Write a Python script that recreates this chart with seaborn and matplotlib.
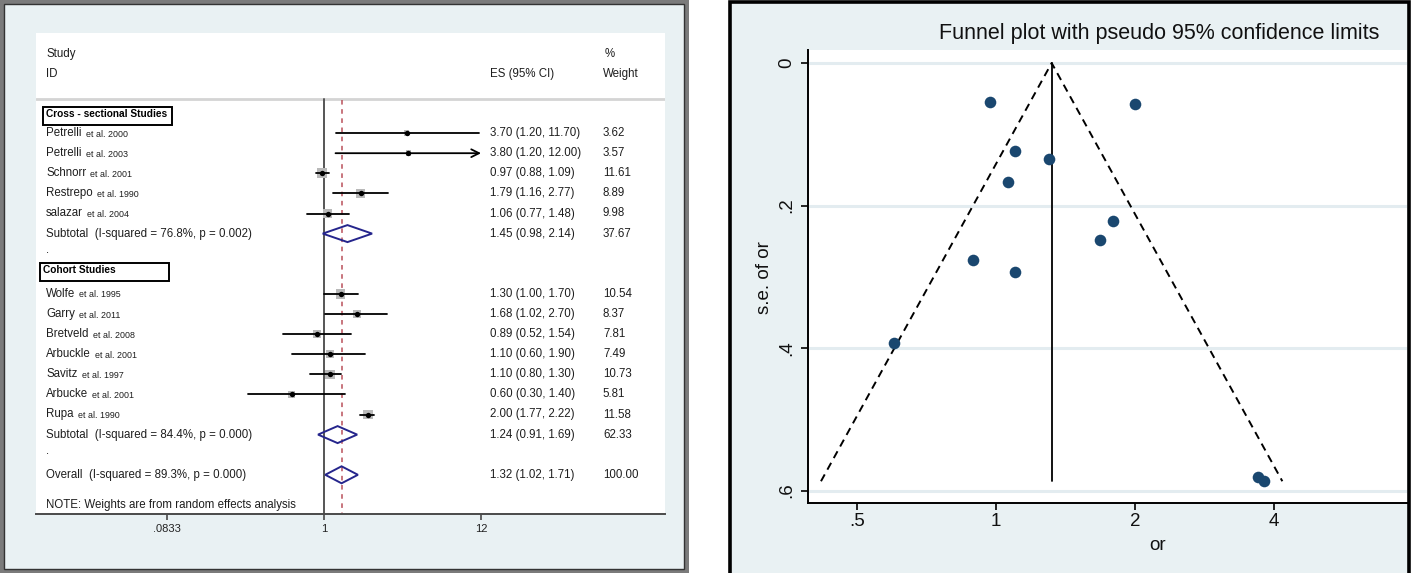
import numpy as np
import pandas as pd
import matplotlib
matplotlib.use("Agg")
import matplotlib.pyplot as plt
import matplotlib.transforms as mtransforms
from matplotlib.patches import Rectangle, Polygon
from matplotlib.ticker import NullLocator, FixedLocator, FixedFormatter
import seaborn as sns

sns.set_theme(style="white")
plt.rcParams["font.family"] = ["Liberation Sans", "DejaVu Sans"]

# ---------------------------------------------------------------- data
authors = ["Petrelli", "Petrelli", "Schnorr", "Restrepo", "salazar",
           "Wolfe", "Garry", "Bretveld", "Arbuckle", "Savitz", "Arbucke", "Rupa"]
cites = ["et al. 2000", "et al. 2003", "et al. 2001", "et al. 1990", "et al. 2004",
         "et al. 1995", "et al. 2011", "et al. 2008", "et al. 2001", "et al. 1997",
         "et al. 2001", "et al. 1990"]
groups = ["Cross - sectional Studies", "Cohort Studies"]
group_sizes = [5, 7]
es = [3.70, 3.80, 0.97, 1.79, 1.06, 1.30, 1.68, 0.89, 1.10, 1.10, 0.60, 2.00]
ci_lo = [1.20, 1.20, 0.88, 1.16, 0.77, 1.00, 1.02, 0.52, 0.60, 0.80, 0.30, 1.77]
ci_hi = [11.70, 12.00, 1.09, 2.77, 1.48, 1.70, 2.70, 1.54, 1.90, 1.30, 1.40, 2.22]
weight = [3.62, 3.57, 11.61, 8.89, 9.98, 10.54, 8.37, 7.81, 7.49, 10.73, 5.81, 11.58]

sub_labels = ["Subtotal  (I-squared = 76.8%, p = 0.002)",
              "Subtotal  (I-squared = 84.4%, p = 0.000)"]
sub_es = [1.45, 1.24]
sub_lo = [0.98, 0.91]
sub_hi = [2.14, 1.69]
sub_weight = [37.67, 62.33]

overall_label = "Overall  (I-squared = 89.3%, p = 0.000)"
overall_es, overall_lo, overall_hi, overall_weight = 1.32, 1.02, 1.71, 100.00
note_text = "NOTE: Weights are from random effects analysis"

forest_ticks = [0.0833, 1, 12]
forest_ticklabels = [".0833", "1", "12"]

# funnel plot: standard error of each study's odds ratio
se_or = [0.581, 0.587, 0.055, 0.222, 0.167, 0.135, 0.248, 0.277, 0.294, 0.124, 0.393, 0.058]
funnel_ticks = [0.5, 1, 2, 4]
funnel_ticklabels = [".5", "1", "2", "4"]
se_ticks = [0, 0.2, 0.4, 0.6]
se_ticklabels = ["0", ".2", ".4", ".6"]

# ---------------------------------------------------------------- figure
W, H = 1415, 573
fig = plt.figure(figsize=(W / 100, H / 100), dpi=100)
fig.patch.set_facecolor("white")

BG = "#e9f1f3"


def fig_rect(x0, y0, x1, y1, **kw):
    """Rectangle given in pixel coordinates measured from the top-left."""
    r = Rectangle((x0 / W, 1 - y1 / H), (x1 - x0) / W, (y1 - y0) / H,
                  transform=fig.transFigure, **kw)
    fig.patches.append(r)
    return r


def axes_px(x0, y0, x1, y1):
    return fig.add_axes([x0 / W, 1 - y1 / H, (x1 - x0) / W, (y1 - y0) / H])


# panel backgrounds (drawn beneath the axes)
fig_rect(0, 0, 689, 573, facecolor="#7b7b7b", edgecolor="none", zorder=-10)
fig_rect(4, 4, 684, 569, facecolor=BG, edgecolor="#333333", linewidth=1.0, zorder=-9)
fig_rect(730, 2, 1409, 580, facecolor=BG, edgecolor="black", linewidth=2.6, zorder=-10)

# ---------------------------------------------------------------- forest plot
axL = axes_px(36, 33, 665, 514)
axL.set_facecolor("white")
axL.set_xscale("log")
axL.set_xlim(np.exp((36 - 324) / 63.2), np.exp((665 - 324) / 63.2))
axL.set_ylim(514, 33)
for s in ["top", "left", "right"]:
    axL.spines[s].set_visible(False)
axL.spines["bottom"].set_color("#4a4a4a")
axL.spines["bottom"].set_linewidth(1.4)
axL.xaxis.set_major_locator(FixedLocator(forest_ticks))
axL.xaxis.set_major_formatter(FixedFormatter(forest_ticklabels))
axL.xaxis.set_minor_locator(NullLocator())
axL.set_yticks([])
axL.tick_params(axis="x", direction="out", length=4, width=1.2, color="#4a4a4a",
                labelsize=8.0, pad=3, bottom=True, labelcolor="#222222")

bt = mtransforms.blended_transform_factory(axL.transAxes, axL.transData)
FS = 8.3
FS_SMALL = 6.4
TXT = "#1e1e1e"
x_lab, x_es, x_wt = 0.0159, 0.7218, 0.9014
x_max = forest_ticks[-1]


def row_y(i):
    return 113 + 20.1 * i


# header
axL.text(x_lab, 54, "Study", transform=bt, fontsize=FS, va="center", color=TXT)
axL.text(x_lab, 74, "ID", transform=bt, fontsize=FS, va="center", color=TXT)
axL.text(x_es, 74, "ES (95% CI)", transform=bt, fontsize=FS, va="center", color=TXT)
axL.text(x_wt + 0.003, 54, "%", transform=bt, fontsize=FS, va="center", color=TXT)
axL.text(x_wt, 74, "Weight", transform=bt, fontsize=FS, va="center", color=TXT)
axL.axhline(99, color="#d4d4d4", lw=2.0, zorder=1)

# reference lines
axL.plot([1, 1], [99, 514], color="#555555", lw=1.4, zorder=1)
axL.plot([overall_es, overall_es], [100, 514], color="#b9505a", lw=1.1,
         linestyle=(0, (3, 3)), zorder=1)


def diamond(y, lo, mid, hi):
    axL.add_patch(Polygon([(lo, y), (mid, y - 8.5), (hi, y), (mid, y + 8.5)],
                          closed=True, fill=False, edgecolor="#25258c",
                          linewidth=1.4, zorder=4))


def study_label(y, name, cite):
    t = axL.text(x_lab, y, name, transform=bt, fontsize=FS, va="center", color=TXT)
    axL.annotate(cite, xy=(1, 0), xycoords=t, xytext=(3, 0.3),
                 textcoords="offset points", fontsize=FS_SMALL, va="bottom",
                 ha="left", color=TXT)


rows = []
box_specs = [(43, 172, 107, 125, 46, 114), (40, 169, 263, 281, 43, 270)]
row = 0
k = 0
for g, (gname, n) in enumerate(zip(groups, group_sizes)):
    bx0, bx1, by0, by1, tx, ty = box_specs[g]
    axL.add_patch(Rectangle(((bx0 - 36) / 629, by0), (bx1 - bx0) / 629, by1 - by0,
                            transform=bt, fill=False, edgecolor="black",
                            linewidth=1.4, zorder=3))
    axL.text((tx - 36) / 629, ty, gname, transform=bt, fontsize=7.3,
             fontweight="bold", va="center", color="black")
    row += 1
    for j in range(n):
        y = row_y(row)
        study_label(y, authors[k], cites[k])
        axL.text(x_es, y, f"{es[k]:.2f} ({ci_lo[k]:.2f}, {ci_hi[k]:.2f})",
                 transform=bt, fontsize=FS, va="center", color=TXT)
        axL.text(x_wt, y, f"{weight[k]:.2f}", transform=bt, fontsize=FS,
                 va="center", color=TXT)
        rows.append(y)
        row += 1
        k += 1
    y = row_y(row)
    axL.text(x_lab, y, sub_labels[g], transform=bt, fontsize=FS, va="center", color=TXT)
    axL.text(x_es, y, f"{sub_es[g]:.2f} ({sub_lo[g]:.2f}, {sub_hi[g]:.2f})",
             transform=bt, fontsize=FS, va="center", color=TXT)
    axL.text(x_wt, y, f"{sub_weight[g]:.2f}", transform=bt, fontsize=FS,
             va="center", color=TXT)
    diamond(y, sub_lo[g], sub_es[g], sub_hi[g])
    row += 1
    axL.text(x_lab, row_y(row) - 4, ".", transform=bt, fontsize=FS, va="center", color=TXT)
    row += 1

y = row_y(row)
axL.text(x_lab, y, overall_label, transform=bt, fontsize=FS, va="center", color=TXT)
axL.text(x_es, y, f"{overall_es:.2f} ({overall_lo:.2f}, {overall_hi:.2f})",
         transform=bt, fontsize=FS, va="center", color=TXT)
axL.text(x_wt, y, f"{overall_weight:.2f}", transform=bt, fontsize=FS,
         va="center", color=TXT)
diamond(y, overall_lo, overall_es, overall_hi)
axL.text(x_lab, row_y(row + 1.5), note_text, transform=bt, fontsize=FS,
         va="center", color=TXT)

# study confidence intervals, weight boxes and point estimates
rows = np.array(rows)
for yi, lo, hi in zip(rows, ci_lo, ci_hi):
    if hi >= x_max:
        axL.annotate("", xy=(x_max, yi), xytext=(lo, yi),
                     arrowprops=dict(arrowstyle="->", lw=1.3, color="black",
                                     shrinkA=0, shrinkB=0, mutation_scale=14),
                     zorder=3)
    else:
        axL.plot([lo, hi], [yi, yi], color="black", lw=1.3, zorder=3)

box_side_pt = 2.9 * np.sqrt(np.array(weight)) * 0.72
axL.scatter(es, rows, marker="s", s=box_side_pt ** 2, color="#b9b9b9",
            linewidths=0, zorder=2)
sns.scatterplot(x=es, y=rows, ax=axL, color="black", s=15, linewidth=0,
                zorder=5, legend=False)
axL.set_xlabel("")
axL.set_ylabel("")

# ---------------------------------------------------------------- funnel plot
axR = axes_px(808, 50, 1407, 503)
axR.set_facecolor("white")
axR.set_xscale("log")
axR.set_xlim(np.exp((808 - 996) / 200.5), np.exp((1407 - 996) / 200.5))
axR.set_ylim((503 - 63) / 712.5, (50 - 63) / 712.5)

axR.yaxis.set_major_locator(FixedLocator(se_ticks))
axR.yaxis.set_major_formatter(FixedFormatter(se_ticklabels))
axR.xaxis.set_major_locator(FixedLocator(funnel_ticks))
axR.xaxis.set_major_formatter(FixedFormatter(funnel_ticklabels))
axR.xaxis.set_minor_locator(NullLocator())
for t in se_ticks:
    axR.axhline(t, color="#e3ecf0", lw=2.2, zorder=0)

for s in ["top", "right"]:
    axR.spines[s].set_visible(False)
for s in ["left", "bottom"]:
    axR.spines[s].set_color("black")
    axR.spines[s].set_linewidth(1.4)
axR.tick_params(axis="both", direction="out", length=5, width=1.2, color="black",
                labelsize=13.5, left=True, bottom=True, labelcolor="#111111")
axR.tick_params(axis="x", pad=2)
axR.tick_params(axis="y", pad=4)
for lab in axR.get_yticklabels():
    lab.set_rotation(90)
    lab.set_va("center")

se_max = max(se_or)
pooled = overall_es
left_end = np.exp(np.log(pooled) - 1.96 * se_max)
right_end = np.exp(np.log(pooled) + 1.96 * se_max)
axR.plot([pooled, pooled], [0, se_max], color="black", lw=1.3, zorder=2)
axR.plot([left_end, pooled, right_end], [se_max, 0, se_max], color="black",
         lw=1.4, linestyle=(0, (4, 2.8)), zorder=2)

funnel_df = pd.DataFrame({"or": es, "se": se_or})
sns.scatterplot(data=funnel_df, x="or", y="se", ax=axR, color="#1a476f", s=70,
                linewidth=0, zorder=3, legend=False)
axR.set_xlabel("")
axR.set_ylabel("")

fig.text(1159 / W, 1 - 33 / H, "Funnel plot with pseudo 95% confidence limits",
         ha="center", va="center", fontsize=15.5, color="#111111")
fig.text(765 / W, 1 - 278 / H, "s.e. of or", rotation=90, ha="center",
         va="center", fontsize=13.5, color="#111111")
fig.text(1158 / W, 1 - 545 / H, "or", ha="center", va="center", fontsize=13.5,
         color="#111111")

fig.savefig("out.png", dpi=100, facecolor=fig.get_facecolor())
